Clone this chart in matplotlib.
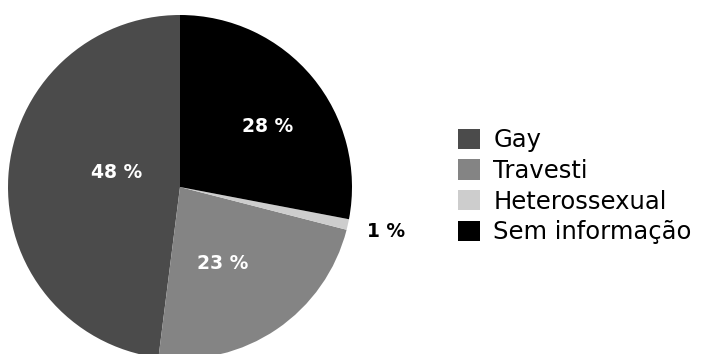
import numpy as np
import matplotlib
matplotlib.use("Agg")
import matplotlib.pyplot as plt

categories = ["Gay", "Travesti", "Heterossexual", "Sem informação"]
shares = [48, 23, 1, 28]
colors = ["#4b4b4b", "#848484", "#cdcdcd", "#000000"]

# where each percentage sits: (distance from centre in radii, angle shift in deg)
label_layout = [(0.38, -9), (0.51, -5), (1.225, 0.5), (0.62, -5)]
label_colors = ["white", "white", "black", "white"]


def main():
    plt.rcParams["font.family"] = ["DejaVu Sans"]
    fig = plt.figure(figsize=(7.02, 3.54), dpi=100)

    # pie centred at (180, 187) px with a 172 px radius
    W, H = 702, 354
    cx, cy, r = 180, 187, 172
    ax = fig.add_axes([(cx - r) / W, (H - cy - r) / H, 2 * r / W, 2 * r / H])
    wedges, _ = ax.pie(shares, colors=colors, startangle=90,
                       counterclock=True, radius=1.0,
                       wedgeprops=dict(linewidth=0))
    ax.set_xlim(-1, 1)
    ax.set_ylim(-1, 1)
    ax.set_aspect("equal")
    ax.axis("off")

    for w, val, (dist, shift), tc in zip(wedges, shares, label_layout, label_colors):
        ang = np.deg2rad((w.theta1 + w.theta2) / 2 + shift)
        ax.text(dist * np.cos(ang), dist * np.sin(ang), f"{val} %",
                ha="center", va="center", color=tc, fontsize=13.5,
                fontweight="bold", clip_on=False)

    fig.legend(wedges, categories, loc="upper left",
               bbox_to_anchor=(441 / W, 1 - 111 / H), frameon=False,
               fontsize=17.5, handlelength=0.9, handleheight=0.9,
               handletextpad=0.55, labelspacing=0.28, borderpad=0.2)

    fig.savefig("out.png", dpi=100, facecolor="white")


if __name__ == "__main__":
    main()
